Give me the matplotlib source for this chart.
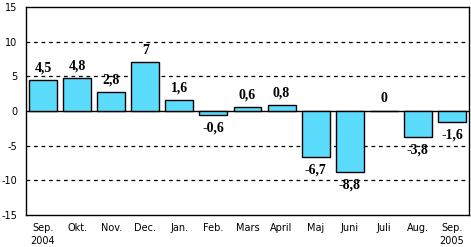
import matplotlib.pyplot as plt
import numpy as np

months = ["Sep.\n2004", "Okt.", "Nov.", "Dec.", "Jan.", "Feb.", "Mars", "April",
          "Maj", "Juni", "Juli", "Aug.", "Sep.\n2005"]
values = [4.5, 4.8, 2.8, 7, 1.6, -0.6, 0.6, 0.8, -6.7, -8.8, 0, -3.8, -1.6]
yticks = [-15, -10, -5, 0, 5, 10, 15]

fig = plt.figure(figsize=(4.71, 2.47), dpi=100)
ax = fig.add_axes([26 / 471, 32 / 247, 443 / 471, 208 / 247])

x = np.arange(len(values))
ax.bar(x, values, width=0.82, color="#5CDCFC", edgecolor="black", linewidth=1, zorder=3)

for v in [-10, -5, 5, 10]:
    ax.axhline(v, color="black", linestyle=(0, (3, 3)), linewidth=0.9, zorder=1)
ax.axhline(0, color="black", linewidth=1, zorder=2)

for xi, v in zip(x, values):
    lab = ("%g" % v).replace(".", ",")
    if v >= 0:
        ax.text(xi, v + 0.8, lab, ha="center", va="bottom", fontsize=10,
                fontweight="bold", family="Liberation Serif", zorder=4)
    else:
        ax.text(xi, v - 0.9, lab, ha="center", va="top", fontsize=10,
                fontweight="bold", family="Liberation Serif", zorder=4)

ax.set_xlim(-0.5, len(values) - 0.5)
ax.set_ylim(-15, 15)
ax.set_yticks(yticks)
ax.set_yticklabels([str(t) for t in yticks], fontsize=7)
ax.set_xticks(x)
ax.set_xticklabels(months, fontsize=7, linespacing=1.3)
ax.tick_params(length=0, pad=6)
for s in ax.spines.values():
    s.set_linewidth(1)

fig.savefig("out.png", dpi=100)
